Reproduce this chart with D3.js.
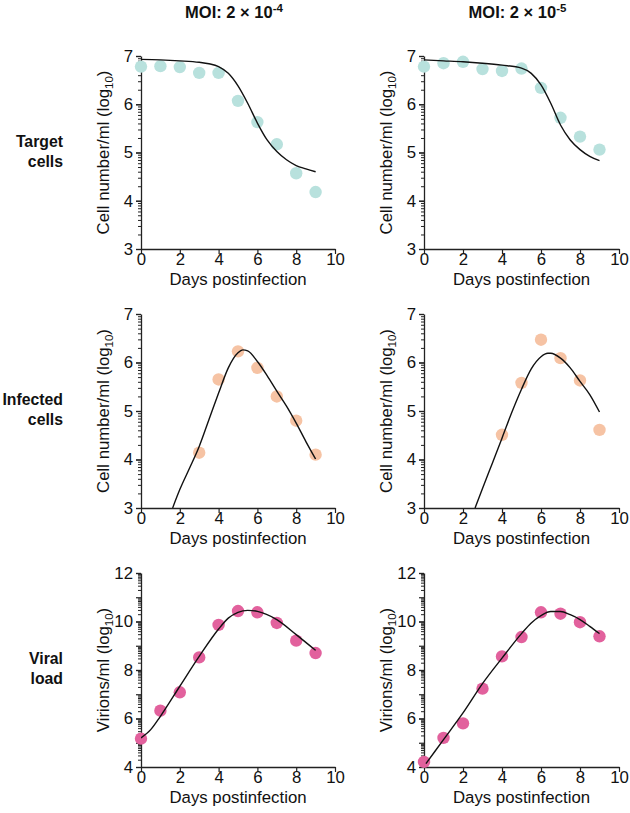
<!DOCTYPE html>
<html>
<head>
<meta charset="utf-8">
<script src="https://cdn.jsdelivr.net/npm/d3@7"></script>
<style>
  body { margin: 0; background: #fff; }
  svg text { font-family: "Liberation Sans", Arial, Helvetica, sans-serif; fill: #111; }
</style>
</head>
<body>
<div id="chart"></div>
<script>
// observed days
const days = [0, 1, 2, 3, 4, 5, 6, 7, 8, 9];

// data points (log10)
const target4 = [6.78, 6.79, 6.77, 6.65, 6.65, 6.07, 5.63, 5.17, 4.57, 4.18];
const target5 = [6.78, 6.85, 6.88, 6.73, 6.69, 6.74, 6.34, 5.72, 5.33, 5.06];
const infDays4 = [3, 4, 5, 6, 7, 8, 9];
const infected4 = [4.14, 5.65, 6.23, 5.89, 5.30, 4.80, 4.10];
const infDays5 = [4, 5, 6, 7, 8, 9];
const infected5 = [4.51, 5.58, 6.47, 6.09, 5.63, 4.61];
const viral4 = [5.17, 6.32, 7.08, 8.52, 9.86, 10.43, 10.38, 9.94, 9.21, 8.70];
const viral5 = [4.21, 5.20, 5.80, 7.23, 8.56, 9.36, 10.38, 10.32, 9.97, 9.39];

// model fit curves
const fitT4Days = [0, 1, 2, 3, 3.5, 4, 4.5, 5, 5.5, 6, 6.5, 7, 7.5, 8, 8.5, 9];
const fitT4 = [6.93, 6.92, 6.90, 6.87, 6.84, 6.78, 6.64, 6.38, 6.02, 5.61, 5.26, 5.02, 4.85, 4.73, 4.66, 4.60];
const fitT5Days = [0, 1, 2, 3, 4, 5, 5.5, 6, 6.5, 7, 7.5, 8, 8.5, 9];
const fitT5 = [6.92, 6.90, 6.88, 6.85, 6.81, 6.75, 6.64, 6.40, 6.02, 5.57, 5.26, 5.06, 4.92, 4.83];
const fitI4Days = [1.63, 2, 2.5, 3, 3.5, 4, 4.5, 5, 5.25, 5.5, 6, 6.5, 7, 7.5, 8, 8.5, 9];
const fitI4 = [3.0, 3.38, 3.82, 4.27, 4.82, 5.37, 5.89, 6.20, 6.26, 6.24, 6.02, 5.73, 5.41, 5.10, 4.75, 4.37, 4.01];
const fitI5Days = [2.62, 3, 3.5, 4, 4.5, 5, 5.5, 6, 6.35, 6.5, 7, 7.5, 8, 8.5, 9];
const fitI5 = [3.0, 3.40, 3.92, 4.44, 4.97, 5.45, 5.87, 6.12, 6.19, 6.19, 6.09, 5.89, 5.61, 5.34, 4.98];
const fitV4Days = [0, 0.5, 1, 2, 3, 4, 4.5, 5, 5.5, 6, 7, 8, 9];
const fitV4 = [5.20, 5.54, 6.09, 7.33, 8.56, 9.69, 10.14, 10.38, 10.46, 10.42, 10.08, 9.46, 8.81];
const fitV5Days = [0.1, 1, 2, 3, 4, 5, 5.5, 6, 6.5, 7, 7.5, 8, 8.5, 9];
const fitV5 = [4.14, 5.13, 6.23, 7.44, 8.49, 9.50, 9.94, 10.24, 10.41, 10.41, 10.28, 10.08, 9.80, 9.50];

// ticks and labels
const xTicks = [0, 2, 4, 6, 8, 10];
const cellTicks = [3, 4, 5, 6, 7];
const viralTicks = [4, 6, 8, 10, 12];
const moiExp = ["-4", "-5"];
const rowLabels = [["Target", "cells"], ["Infected", "cells"], ["Viral", "load"]];
const colors = { target: "#b8e1dd", infected: "#f6c3a4", viral: "#e2619d" };

const width = 630, height = 813;
const colX = [[141, 335], [424, 619]];
const rowY = [[56, 249], [314, 508], [573, 767]];
const fs = "16.8px";

const svg = d3.select("#chart").append("svg")
    .attr("width", width)
    .attr("height", height);

function drawPanel(col, row, cfg) {
    const x = d3.scaleLinear().domain([0, 10]).range(colX[col]);
    const y = d3.scaleLinear().domain(cfg.yDomain).range([rowY[row][1], rowY[row][0]]);
    const g = svg.append("g");

    // log10 minor ticks inside each decade
    const minor = [];
    for (let k = cfg.yDomain[0]; k < cfg.yDomain[1]; k++) {
        for (let m = 2; m <= 9; m++) minor.push(k + Math.log10(m));
    }
    const integers = d3.range(cfg.yDomain[0], cfg.yDomain[1] + 1);

    g.append("g")
        .attr("transform", `translate(${colX[col][0]},0)`)
        .call(d3.axisLeft(y).tickValues(minor).tickSize(3).tickFormat(""))
        .call(a => a.select(".domain").remove())
        .selectAll("line").attr("stroke", "#222").attr("stroke-width", 1);

    g.append("g")
        .attr("transform", `translate(${colX[col][0]},0)`)
        .call(d3.axisLeft(y).tickValues(integers).tickSize(5).tickFormat(""))
        .call(a => a.select(".domain").remove())
        .selectAll("line").attr("stroke", "#222").attr("stroke-width", 1.2);

    const yAxis = g.append("g")
        .attr("transform", `translate(${colX[col][0]},0)`)
        .call(d3.axisLeft(y).tickValues(cfg.yTicks).tickFormat(d3.format("d"))
            .tickSize(5).tickSizeOuter(0).tickPadding(3));
    yAxis.select(".domain").attr("stroke", "#222").attr("stroke-width", 1.3);
    yAxis.selectAll("line").attr("stroke", "#222").attr("stroke-width", 1.2);
    yAxis.selectAll("text").style("font-size", fs).style("fill", "#111");

    const xAxis = g.append("g")
        .attr("transform", `translate(0,${rowY[row][1]})`)
        .call(d3.axisBottom(x).tickValues(xTicks).tickSize(5).tickSizeOuter(0).tickPadding(-1));
    xAxis.select(".domain").attr("stroke", "#222").attr("stroke-width", 1.3);
    xAxis.selectAll("line").attr("stroke", "#222").attr("stroke-width", 1.2);
    xAxis.selectAll("text").style("font-size", fs).style("fill", "#111");

    g.append("text")
        .attr("x", (colX[col][0] + colX[col][1]) / 2)
        .attr("y", rowY[row][1] + 36)
        .attr("text-anchor", "middle")
        .style("font-size", fs)
        .text("Days postinfection");

    const yt = g.append("text")
        .attr("transform", `translate(${colX[col][0] - 32},${(rowY[row][0] + rowY[row][1]) / 2}) rotate(-90)`)
        .attr("text-anchor", "middle")
        .style("font-size", fs);
    yt.append("tspan").text(cfg.yTitle + " (log");
    yt.append("tspan").attr("dy", 4).style("font-size", "11.5px").text("10");
    yt.append("tspan").attr("dy", -4).text(")");

    const clipId = `clip-${row}-${col}`;
    svg.append("clipPath").attr("id", clipId)
        .append("rect")
        .attr("x", colX[col][0])
        .attr("y", rowY[row][0] - 10)
        .attr("width", colX[col][1] - colX[col][0])
        .attr("height", rowY[row][1] - rowY[row][0] + 10);

    g.selectAll(".dot")
        .data(cfg.px.map((d, i) => [d, cfg.py[i]]))
        .enter().append("circle")
        .attr("cx", d => x(d[0]))
        .attr("cy", d => y(d[1]))
        .attr("r", 6.2)
        .attr("fill", cfg.color);

    const line = d3.line()
        .x(d => x(d[0]))
        .y(d => y(d[1]))
        .curve(d3.curveMonotoneX);

    g.append("path")
        .datum(cfg.fx.map((d, i) => [d, cfg.fy[i]]))
        .attr("clip-path", `url(#${clipId})`)
        .attr("fill", "none")
        .attr("stroke", "#111")
        .attr("stroke-width", 1.4)
        .attr("d", line);
}

drawPanel(0, 0, { yDomain: [3, 7], yTicks: cellTicks, yTitle: "Cell number/ml", color: colors.target, px: days, py: target4, fx: fitT4Days, fy: fitT4 });
drawPanel(1, 0, { yDomain: [3, 7], yTicks: cellTicks, yTitle: "Cell number/ml", color: colors.target, px: days, py: target5, fx: fitT5Days, fy: fitT5 });
drawPanel(0, 1, { yDomain: [3, 7], yTicks: cellTicks, yTitle: "Cell number/ml", color: colors.infected, px: infDays4, py: infected4, fx: fitI4Days, fy: fitI4 });
drawPanel(1, 1, { yDomain: [3, 7], yTicks: cellTicks, yTitle: "Cell number/ml", color: colors.infected, px: infDays5, py: infected5, fx: fitI5Days, fy: fitI5 });
drawPanel(0, 2, { yDomain: [4, 12], yTicks: viralTicks, yTitle: "Virions/ml", color: colors.viral, px: days, py: viral4, fx: fitV4Days, fy: fitV4 });
drawPanel(1, 2, { yDomain: [4, 12], yTicks: viralTicks, yTitle: "Virions/ml", color: colors.viral, px: days, py: viral5, fx: fitV5Days, fy: fitV5 });

// column titles
moiExp.forEach((e, i) => {
    const t = svg.append("text")
        .attr("x", (colX[i][0] + colX[i][1]) / 2 - 4)
        .attr("y", 18)
        .attr("text-anchor", "middle")
        .style("font-size", "16.5px")
        .style("font-weight", "bold");
    t.append("tspan").text("MOI: 2 × 10");
    t.append("tspan").attr("dy", -6).style("font-size", "11.5px").text(e);
});

// row labels
rowLabels.forEach((lines, r) => {
    const mid = (rowY[r][0] + rowY[r][1]) / 2;
    lines.forEach((s, j) => {
        svg.append("text")
            .attr("x", 63)
            .attr("y", mid - 6 + j * 20)
            .attr("text-anchor", "end")
            .style("font-size", "15.8px")
            .style("font-weight", "bold")
            .text(s);
    });
});
</script>
</body>
</html>
